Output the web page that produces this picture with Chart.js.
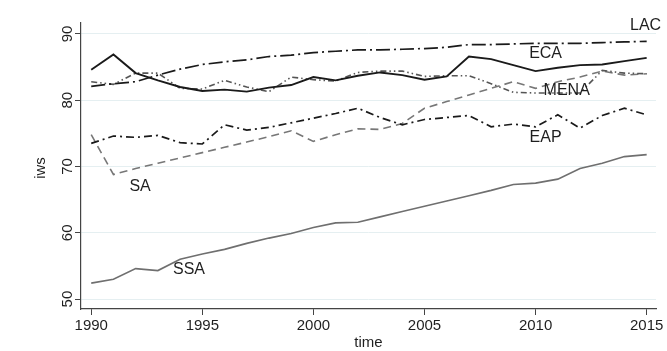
<!DOCTYPE html>
<html>
<head>
<meta charset="utf-8">
<script src="https://cdn.jsdelivr.net/npm/chart.js@4.4.1/dist/chart.umd.min.js"></script>
<style>
  html, body { margin: 0; padding: 0; background: #fff; }
  #wrap { width: 667px; height: 351px; position: relative; }
</style>
</head>
<body>
<div id="wrap"><canvas id="iws"></canvas></div>
<script>
// -- data
const years = [1990, 1991, 1992, 1993, 1994, 1995, 1996, 1997, 1998, 1999, 2000, 2001, 2002,
  2003, 2004, 2005, 2006, 2007, 2008, 2009, 2010, 2011, 2012, 2013, 2014, 2015];
const xTicks = [1990, 1995, 2000, 2005, 2010, 2015];
const yTicks = [50, 60, 70, 80, 90];

const lac = [82.1, 82.5, 82.8, 83.8, 84.7, 85.4, 85.8, 86.1, 86.6, 86.8, 87.2, 87.4, 87.6,
  87.6, 87.7, 87.8, 88.0, 88.4, 88.4, 88.5, 88.6, 88.6, 88.6, 88.7, 88.8, 88.9];
const eca = [84.6, 86.9, 84.1, 83.0, 82.0, 81.4, 81.6, 81.3, 81.9, 82.3, 83.5, 83.0, 83.7,
  84.2, 83.8, 83.1, 83.6, 86.6, 86.2, 85.3, 84.4, 84.9, 85.3, 85.4, 85.9, 86.4];
const mena = [82.8, 82.4, 84.1, 84.1, 81.8, 81.7, 83.0, 82.0, 81.3, 83.5, 83.1, 82.9, 84.2,
  84.4, 84.4, 83.6, 83.7, 83.7, 82.5, 81.2, 81.1, 81.1, 81.1, 84.5, 84.1, 84.0];
const eap = [73.5, 74.6, 74.4, 74.7, 73.6, 73.4, 76.3, 75.5, 75.9, 76.6, 77.3, 78.0, 78.8,
  77.4, 76.3, 77.1, 77.4, 77.7, 76.0, 76.4, 76.0, 77.8, 75.8, 77.7, 78.8, 77.8];
const sa = [74.8, 68.8, 69.7, 70.5, 71.3, 72.1, 72.9, 73.7, 74.5, 75.4, 73.8, 74.8, 75.7,
  75.6, 76.5, 78.8, 79.8, 80.8, 81.8, 82.8, 81.8, 82.8, 83.5, 84.4, 83.8, 84.0];
const ssa = [52.4, 53.0, 54.6, 54.3, 56.0, 56.8, 57.5, 58.4, 59.2, 59.9, 60.8, 61.5, 61.6,
  62.4, 63.2, 64.0, 64.8, 65.6, 66.4, 67.3, 67.5, 68.1, 69.7, 70.5, 71.5, 71.8];

// region names and where they sit (in data units)
const regionLabels = [
  { text: 'LAC', x: 2014.95, y: 91.3 },
  { text: 'ECA', x: 2010.45, y: 87.1 },
  { text: 'MENA', x: 2011.4, y: 81.5 },
  { text: 'EAP', x: 2010.45, y: 74.3 },
  { text: 'SA', x: 1992.2, y: 67.0 },
  { text: 'SSA', x: 1994.4, y: 54.4 },
];

const FAMILY = '"Liberation Sans", Arial, sans-serif';
const TXT = '#1f1f1f';

function pts(vals) {
  return years.map((yr, i) => ({ x: yr, y: vals[i] }));
}

// draws rotated y labels, axis titles and the region names
const textPlugin = {
  id: 'stataText',
  afterDraw(chart) {
    const { ctx, scales } = chart;
    const xs = scales.x, ys = scales.y;
    ctx.save();
    ctx.font = '15px ' + FAMILY;
    ctx.fillStyle = TXT;
    ctx.textAlign = 'center';
    ctx.textBaseline = 'middle';

    // y tick labels, reading upward
    yTicks.forEach((v) => {
      ctx.save();
      ctx.translate(68, ys.getPixelForValue(v));
      ctx.rotate(-Math.PI / 2);
      ctx.fillText(String(v), 0, 0);
      ctx.restore();
    });

    // y title
    ctx.save();
    ctx.translate(41, (ys.top + ys.bottom) / 2 + 2);
    ctx.rotate(-Math.PI / 2);
    ctx.fillText('iws', 0, 0);
    ctx.restore();

    // x title
    ctx.fillText('time', (xs.left + xs.right) / 2, 343);

    ctx.font = '16px ' + FAMILY;
    regionLabels.forEach((l) => {
      ctx.fillText(l.text, xs.getPixelForValue(l.x), ys.getPixelForValue(l.y));
    });
    ctx.restore();
  },
};

new Chart(document.getElementById('iws'), {
  type: 'line',
  data: {
    datasets: [
      { label: 'LAC', data: pts(lac), borderColor: '#1a1a1a', borderWidth: 1.7, borderDash: [14, 4, 2, 4] },
      { label: 'ECA', data: pts(eca), borderColor: '#1a1a1a', borderWidth: 1.9 },
      { label: 'MENA', data: pts(mena), borderColor: '#555', borderWidth: 1.6, borderDash: [6, 3, 1.5, 3, 1.5, 3] },
      { label: 'EAP', data: pts(eap), borderColor: '#1a1a1a', borderWidth: 1.7, borderDash: [8, 4, 2, 4] },
      { label: 'SA', data: pts(sa), borderColor: '#777', borderWidth: 1.6, borderDash: [8, 5] },
      { label: 'SSA', data: pts(ssa), borderColor: '#6f6f6f', borderWidth: 1.6 },
    ],
  },
  options: {
    responsive: true,
    maintainAspectRatio: false,
    animation: false,
    events: [],
    elements: { point: { radius: 0 }, line: { tension: 0 } },
    layout: { padding: { top: 23, right: 11, left: 0, bottom: 0 } },
    plugins: { legend: { display: false }, tooltip: { enabled: false } },
    scales: {
      x: {
        type: 'linear',
        min: 1989.54,
        max: 2015.42,
        afterBuildTicks: (s) => { s.ticks = xTicks.map((v) => ({ value: v })); },
        afterFit: (s) => { s.height = 42; },
        grid: { drawOnChartArea: false, drawTicks: true, tickLength: 6, tickColor: '#444' },
        border: { display: true, color: '#444', width: 1.2 },
        ticks: {
          font: { family: FAMILY, size: 15 },
          color: TXT,
          padding: 2,
          maxRotation: 0,
          callback: (v) => String(v),
        },
      },
      y: {
        type: 'linear',
        min: 48.5,
        max: 91.66,
        afterBuildTicks: (s) => { s.ticks = yTicks.map((v) => ({ value: v })); },
        afterFit: (s) => { s.width = 81; },
        grid: { color: '#e5eff1', lineWidth: 1, drawTicks: true, tickLength: 6, tickColor: '#444' },
        border: { display: true, color: '#444', width: 1.2 },
        ticks: { display: false },
      },
    },
  },
  plugins: [textPlugin],
});
</script>
</body>
</html>
